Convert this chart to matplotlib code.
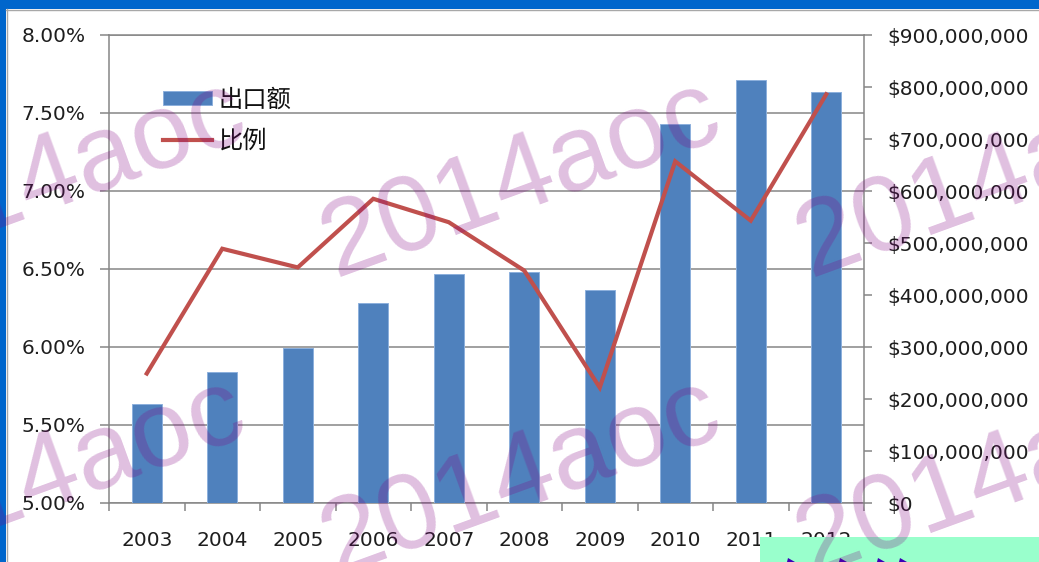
import matplotlib
matplotlib.use("Agg")
import matplotlib.pyplot as plt
from matplotlib.ticker import FuncFormatter, PercentFormatter, MultipleLocator, FixedLocator
from matplotlib.patches import Rectangle, Polygon
from matplotlib.lines import Line2D
import numpy as np

# ---------------- data ----------------
years = ["2003", "2004", "2005", "2006", "2007", "2008", "2009", "2010", "2011", "2012"]
export_usd = [190e6, 251e6, 299e6, 385e6, 440e6, 445e6, 410e6, 729e6, 814e6, 791e6]
ratio_pct = [5.83, 6.63, 6.51, 6.95, 6.80, 6.49, 5.74, 7.19, 6.81, 7.62]
legend_labels = ["出口额", "比例"]
watermark = "2014aoc"

W, H = 1039, 562
fig = plt.figure(figsize=(W / 100, H / 100), dpi=100)
fig.patch.set_facecolor("white")

GRID = "#868686"
TXT = "#1e1e1e"
BAR = "#4F81BD"
LINE = "#C0504D"
FS = 14.5

pos = [109 / W, 1 - 503 / H, (864 - 109) / W, (503 - 35) / H]
x = np.arange(len(years))

# base axis: percent scale, grid, left labels
ax = fig.add_axes(pos)
ax.set_xlim(-0.5, len(years) - 0.5)
ax.set_ylim(5.0, 8.0)
ax.yaxis.set_major_locator(MultipleLocator(0.5))
ax.yaxis.set_major_formatter(PercentFormatter(xmax=100, decimals=2))
ax.grid(axis="y", color=GRID, linewidth=1.1)
ax.set_axisbelow(True)
ax.set_xticks(x)
ax.set_xticklabels(years)
ax.xaxis.set_minor_locator(FixedLocator(np.arange(-0.5, len(years), 1.0)))
ax.tick_params(axis="x", which="major", length=0, pad=20, labelsize=FS, labelcolor=TXT)
ax.tick_params(axis="x", which="minor", length=6, width=1.1, color=GRID)
ax.tick_params(axis="y", length=6.5, width=1.1, color=GRID, pad=10.5, labelsize=FS, labelcolor=TXT)
for s in ["left", "bottom", "top"]:
    ax.spines[s].set_color(GRID)
    ax.spines[s].set_linewidth(1.1)
ax.spines["right"].set_visible(False)

# bars on secondary (right) axis
ax2 = ax.twinx()
ax2.set_zorder(1)
ax2.patch.set_visible(False)
ax2.set_ylim(0, 900e6)
ax2.yaxis.set_major_locator(MultipleLocator(100e6))
ax2.yaxis.set_major_formatter(FuncFormatter(lambda v, p: "$0" if v == 0 else f"${v:,.0f}"))
bars = ax2.bar(x, export_usd, width=0.4, color=BAR, edgecolor="#8DB0DC", linewidth=0.7,
               label=legend_labels[0])
ax2.tick_params(axis="y", length=6, width=1.1, color=GRID, pad=11, labelsize=FS, labelcolor=TXT)
for s in ["left", "bottom", "top"]:
    ax2.spines[s].set_visible(False)
ax2.spines["right"].set_color(GRID)
ax2.spines["right"].set_linewidth(1.1)

# line on top layer (percent scale)
ax3 = ax.twinx()
ax3.set_zorder(2)
ax3.patch.set_visible(False)
ax3.set_ylim(5.0, 8.0)
ax3.set_yticks([])
for s in ax3.spines.values():
    s.set_visible(False)
ln, = ax3.plot(x, ratio_pct, color=LINE, linewidth=3.0, solid_joinstyle="miter",
               label=legend_labels[1])
ax3.set_ylim(5.0, 8.0)

leg = ax3.legend(handles=[bars, ln], labels=legend_labels, loc="upper left",
                 bbox_to_anchor=((163 - 109) / 755, (503 - 87) / 468),
                 frameon=False, borderpad=0, borderaxespad=0,
                 handlelength=2.0, handleheight=0.5, handletextpad=0.3,
                 labelspacing=0.6,
                 prop={"family": ["Noto Sans CJK SC", "DejaVu Sans"], "size": 17.5})
for t in leg.get_texts():
    t.set_color("#111111")

# frame decoration (blue border)
fig.add_artist(Rectangle((0, 1 - 9 / H), 1, 9 / H, transform=fig.transFigure,
                         facecolor="#0066CC", edgecolor="none", zorder=5))
fig.add_artist(Rectangle((0, 0), 6 / W, 1, transform=fig.transFigure,
                         facecolor="#0066CC", edgecolor="none", zorder=5))
fig.add_artist(Line2D([6 / W, 1], [1 - 9.5 / H, 1 - 9.5 / H], transform=fig.transFigure,
                      color="#A8A8A8", linewidth=1.0, zorder=5))
fig.add_artist(Line2D([6.5 / W, 6.5 / W], [0, 1 - 9 / H], transform=fig.transFigure,
                      color="#A8A8A8", linewidth=1.0, zorder=5))

# mint box at bottom right
fig.add_artist(Rectangle((760 / W, 0), 1 - 760 / W, 25 / H, transform=fig.transFigure,
                         facecolor="#99FFCC", edgecolor="none", zorder=5))
for tx in [790, 842, 880, 902]:
    fig.add_artist(Polygon([[(tx - 3) / W, 0], [(tx + 5) / W, 0], [(tx - 2) / W, 4 / H]],
                           closed=True, transform=fig.transFigure,
                           facecolor="#3C00B4", edgecolor="none", zorder=6))

# watermarks
for i in (-1, 0, 1):
    for j in (0, 1):
        px, py = 335 + 475 * i, 277 + 298 * j
        fig.text(px / W, 1 - py / H, watermark, fontsize=78, family="Liberation Sans",
                 rotation=20, rotation_mode="anchor", ha="left", va="baseline",
                 color=(0.512, 0.012, 0.512), alpha=0.25, zorder=10)

fig.savefig("out.png", dpi=100)
